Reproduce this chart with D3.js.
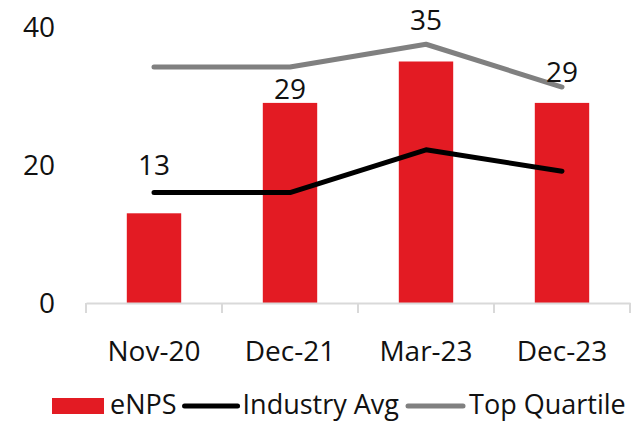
<!DOCTYPE html>
<html>
<head>
<meta charset="utf-8">
<script src="https://cdn.jsdelivr.net/npm/d3@7"></script>
<style>
  html, body { margin: 0; padding: 0; background: #fff; }
  svg { display: block; }
  text { font-family: "Open Sans", "Noto Sans", sans-serif; fill: #111; }
</style>
</head>
<body>
<svg id="chart" width="641" height="422"></svg>
<script>
const categories = ["Nov-20", "Dec-21", "Mar-23", "Dec-23"];
const enps = [13, 29, 35, 29];
const industryAvg = [16, 16, 22.2, 19.1];
const topQuartile = [34.2, 34.2, 37.5, 31.3];
const yTicks = [0, 20, 40];
const seriesNames = ["eNPS", "Industry Avg", "Top Quartile"];

const colors = { bar: "#e31b23", avg: "#000000", top: "#808080", axis: "#d9d9d9" };
const fontSize = 28;
const legendFontSize = 27;

const svg = d3.select("#chart");

const x = d3.scaleBand().domain(categories).range([86, 630]).paddingInner(0.6).paddingOuter(0.3);
const y = d3.scaleLinear().domain([0, 40]).range([303, 27]);

// y tick labels
svg.append("g").selectAll("text").data(yTicks).join("text")
  .attr("x", 55).attr("y", d => y(d) - 1)
  .attr("text-anchor", "end").attr("dominant-baseline", "central")
  .style("font-size", fontSize + "px")
  .text(d => d);

// bars
svg.append("g").selectAll("rect").data(enps).join("rect")
  .attr("x", (d, i) => x(categories[i]))
  .attr("y", d => y(d))
  .attr("width", x.bandwidth())
  .attr("height", d => y(0) - y(d))
  .attr("fill", colors.bar);

// x axis
const xAxis = d3.axisBottom(x).tickSize(0).tickFormat(d => d);
const gx = svg.append("g").attr("transform", `translate(0,${y(0)})`).call(xAxis);
gx.select(".domain").attr("stroke", colors.axis).attr("stroke-width", 2);
gx.selectAll(".tick text").attr("dy", null).attr("y", 58)
  .style("font-size", fontSize + "px").style("font-family", '"Open Sans", "Noto Sans", sans-serif').attr("fill", "#111");
// band boundary tick marks
const step = x.step();
const half = (step - x.bandwidth()) / 2;
const bounds = categories.map(c => x(c) - half).concat([x(categories[categories.length - 1]) + x.bandwidth() + half]);
gx.selectAll("line.bound").data(bounds).join("line").attr("class", "bound")
  .attr("x1", d => d).attr("x2", d => d).attr("y1", 0).attr("y2", 10)
  .attr("stroke", colors.axis).attr("stroke-width", 2);

// lines
const line = d3.line().x((d, i) => x(categories[i]) + x.bandwidth() / 2).y(d => y(d));
svg.append("path").datum(topQuartile).attr("d", line)
  .attr("fill", "none").attr("stroke", colors.top).attr("stroke-width", 5)
  .attr("stroke-linecap", "round").attr("stroke-linejoin", "round");
svg.append("path").datum(industryAvg).attr("d", line)
  .attr("fill", "none").attr("stroke", colors.avg).attr("stroke-width", 5)
  .attr("stroke-linecap", "round").attr("stroke-linejoin", "round");

// data labels (manually lifted above bars to avoid the lines)
const labelLift = [38, 4, 32, 21];
svg.append("g").selectAll("text").data(enps).join("text")
  .attr("x", (d, i) => x(categories[i]) + x.bandwidth() / 2)
  .attr("y", (d, i) => y(d) - labelLift[i])
  .attr("text-anchor", "middle")
  .style("font-size", fontSize + "px")
  .text(d => d);

// legend
const lg = svg.append("g");
const base = 414;
const midY = 406;
let lx = 52;
lg.append("rect").attr("x", lx).attr("y", 398).attr("width", 52).attr("height", 16).attr("fill", colors.bar);
lx = 110;
let t = lg.append("text").attr("x", lx).attr("y", base)
  .style("font-size", legendFontSize + "px").text(seriesNames[0]);
lx += t.node().getComputedTextLength() + 8;
lg.append("line").attr("x1", lx).attr("x2", lx + 53).attr("y1", midY).attr("y2", midY)
  .attr("stroke", colors.avg).attr("stroke-width", 5).attr("stroke-linecap", "round");
lx += 58;
t = lg.append("text").attr("x", lx).attr("y", base)
  .style("font-size", legendFontSize + "px").text(seriesNames[1]);
lx += t.node().getComputedTextLength() + 9;
lg.append("line").attr("x1", lx).attr("x2", lx + 55).attr("y1", midY).attr("y2", midY)
  .attr("stroke", colors.top).attr("stroke-width", 5).attr("stroke-linecap", "round");
lx += 61;
lg.append("text").attr("x", lx).attr("y", base)
  .style("font-size", legendFontSize + "px").text(seriesNames[2]);
</script>
</body>
</html>
